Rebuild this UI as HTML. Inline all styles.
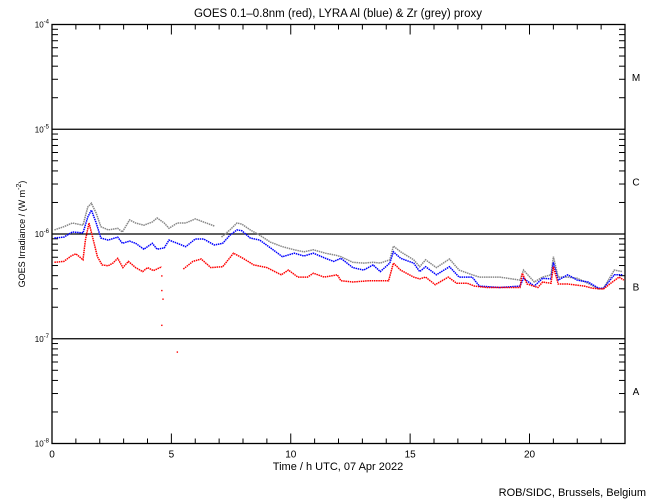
<!DOCTYPE html>
<html><head><meta charset="utf-8"><style>
body{margin:0;background:#fff;}
svg{display:block;font-family:"Liberation Sans",sans-serif;}
</style></head><body>
<svg id="chart" width="650" height="500">
<text x="338" y="17" text-anchor="middle" font-size="11.5">GOES 0.1–0.8nm (red), LYRA Al (blue) &amp; Zr (grey) proxy</text>
<text x="338" y="470" text-anchor="middle" font-size="11">Time / h UTC, 07 Apr 2022</text>
<text transform="translate(25,234) rotate(-90)" text-anchor="middle" font-size="9">GOES Irradiance / (W m<tspan dy="-4" font-size="7">-2</tspan><tspan dy="4">)</tspan></text>
<text x="646" y="496" text-anchor="end" font-size="11">ROB/SIDC, Brussels, Belgium</text>
<g id="axes"></g>
<g id="series"></g>
</svg>
<script>
// time in hours, values in units of 1e-7 W/m^2
const redT=[0.1,0.5,0.8,1.0,1.3,1.4,1.55,1.7,1.9,2.1,2.35,2.55,2.75,2.97,3.2,3.5,3.8,4.0,4.25,4.6,null,5.5,5.9,6.25,6.65,7.15,7.6,8.0,8.45,9.0,9.6,9.9,10.3,10.7,10.95,11.4,11.95,12.1,12.6,13.3,14.1,14.3,14.6,15.15,15.4,15.65,16.05,16.6,16.95,17.4,17.7,18.2,19.05,19.6,19.7,19.9,20.35,20.55,20.9,21.0,21.2,21.6,22.3,22.65,23.1,23.4,23.75,23.95];
const redV=[5.4,5.5,6.2,6.5,5.7,8.8,12.8,9.4,6.1,5.1,5.0,5.3,5.9,4.8,5.5,4.8,4.4,4.8,4.5,4.9,null,4.65,5.5,5.8,4.8,4.9,6.6,5.9,5.1,4.8,4.1,4.55,3.9,3.9,4.25,3.9,4.1,3.6,3.5,3.6,3.6,5.3,4.55,3.9,3.75,3.9,3.3,3.9,3.4,3.4,3.2,3.1,3.1,3.1,4.25,3.35,3.1,3.5,3.4,4.9,3.35,3.35,3.2,3.05,3.0,3.4,3.9,3.65];
const redOutT=[4.6,4.6,4.6,4.65,5.25];
const redOutV=[4.0,2.9,1.35,2.4,0.75];
const blueT=[0.1,0.5,0.85,1.3,1.5,1.65,1.85,2.05,2.35,2.75,2.95,3.25,3.5,3.85,4.2,4.4,4.7,4.9,5.25,5.6,6.0,6.35,6.8,7.15,7.45,7.75,7.95,8.3,8.7,9.15,9.65,10.15,10.55,10.95,11.45,11.8,12.1,12.6,13.05,13.45,13.75,14.15,14.3,14.6,15.15,15.4,15.65,16.1,16.65,17.05,17.6,17.9,18.75,19.6,19.75,20.2,20.55,20.9,21.0,21.2,21.6,22.0,22.45,22.9,23.1,23.55,23.9];
const blueV=[9.2,9.4,10.5,10.3,14.6,17,12.8,9.2,8.8,9.4,8.2,8.6,8.2,7.2,8.2,7.2,7.4,8.8,8.2,7.6,9.0,9.0,7.9,8.2,9.8,11,10.8,9.2,8.8,7.4,6.1,6.6,6.2,6.6,5.9,5.5,5.9,4.8,4.55,5.1,4.4,5.3,6.8,5.9,5.3,4.4,4.9,4.1,4.9,3.9,3.9,3.2,3.1,3.2,3.8,3.2,3.8,3.75,5.4,3.65,4.1,3.65,3.5,3.05,3.05,4.1,4.1];
const greyT=[0.1,0.5,0.85,1.3,1.5,1.65,1.85,2.05,2.35,2.75,2.95,3.25,3.5,3.85,4.2,4.4,4.7,4.9,5.25,5.6,6.0,6.35,6.8,null,7.1,7.45,7.75,7.95,8.3,8.7,9.15,9.65,10.15,10.55,10.95,11.45,11.9,12.1,12.6,13.05,13.45,13.75,14.15,14.3,14.6,15.15,15.4,15.65,16.1,16.65,17.05,17.6,17.9,18.75,19.6,19.75,20.2,20.55,20.9,21.0,21.2,21.6,22.0,22.45,22.9,23.1,23.55,23.9];
const greyV=[11,11.8,12.8,12.2,18.2,19.8,15.9,11.8,11,11.4,10.5,13.7,12.8,12.2,13.1,14.3,12.8,11.4,12.8,12.8,14,13.1,12,null,9.4,11,12.8,12.5,11,9.8,8.4,7.6,7.1,6.8,7.1,6.6,6.3,6.1,5.4,5.3,5.4,5.3,5.7,7.7,6.8,5.7,4.9,5.7,4.8,5.8,4.55,4.1,3.9,3.9,3.65,4.55,3.5,3.9,4.1,6.1,3.9,3.9,3.8,3.4,3.0,3.05,4.55,4.4];
const decadeLabels=["-4","-5","-6","-7","-8"];
const classLabels=["M","C","B","A"];
const xTickLabels=[0,5,10,15,20];

const X0=52,X1=625,YT=24.5,YB=443.5;
const sx=h=>X0+(X1-X0)*h/24;
const sy=v=>339-Math.log10(v)*104.75; // v in 1e-7 units
const NS="http://www.w3.org/2000/svg";
const ax=document.getElementById('axes'),sg=document.getElementById('series');
function mk(tag,attrs,parent){const e=document.createElementNS(NS,tag);for(const k in attrs)e.setAttribute(k,attrs[k]);parent.appendChild(e);return e;}
const frame=mk('rect',{x:X0,y:YT,width:X1-X0,height:YB-YT,fill:'none',stroke:'#000','stroke-width':1.3},ax);


decadeLabels.forEach((lab,i)=>{
  const y=YT+i*104.75;
  if(i>0&&i<4){const l=mk('line',{x1:X0,x2:X1,y1:y,y2:y,stroke:'#000','stroke-width':1.3},ax);
    
    }
  const t=mk('text',{x:X0-3,y:y+3,'text-anchor':'end','font-size':8},ax);
  
  
  t.innerHTML='10<tspan dy="-4" font-size="6">'+lab+'</tspan>';
  if(i<4){for(let m=2;m<=9;m++){const yy=y+104.75-Math.log10(m)*104.75;
    mk('line',{x1:X0,x2:X0+6,y1:yy,y2:yy,stroke:'#000'},ax);
    mk('line',{x1:X1,x2:X1-6,y1:yy,y2:yy,stroke:'#000'},ax);}}
});
classLabels.forEach((c,i)=>{
  const t=mk('text',{x:636,y:YT+104.75*(i+0.5)+4,'text-anchor':'middle','font-size':10},ax);
  
  
  t.textContent=c;
});
for(let h=1;h<24;h++){const x=sx(h),len=h%5===0?10:5;
  mk('line',{x1:x,x2:x,y1:YB,y2:YB-len,stroke:'#000'},ax);
  mk('line',{x1:x,x2:x,y1:YT,y2:YT+len,stroke:'#000'},ax);}
xTickLabels.forEach(h=>{const t=mk('text',{x:sx(h),y:YB+14,'text-anchor':'middle','font-size':10},ax);
  
  
  t.textContent=h;});
function series(T,V,color,name){
  let d='';let pen=false;
  T.forEach((t,i)=>{if(t===null||V[i]===null){pen=false;return;}
    d+=(pen?'L':'M')+sx(t).toFixed(1)+' '+sy(V[i]).toFixed(1);pen=true;});
  const p=mk('path',{d:d,fill:'none',stroke:color,'stroke-width':1.5,'stroke-dasharray':'1.5 0.7'},sg);
  
  
}
series(greyT,greyV,'#888','zr-grey-series');
series(blueT,blueV,'#0000ff','al-blue-series');
series(redT,redV,'#ff0000','goes-red-series');
redOutT.forEach((t,i)=>{const r=mk('rect',{x:sx(t)-0.7,y:sy(redOutV[i])-0.7,width:1.4,height:1.4,fill:'#ff0000'},sg);
  
  });
</script>
</body></html>
